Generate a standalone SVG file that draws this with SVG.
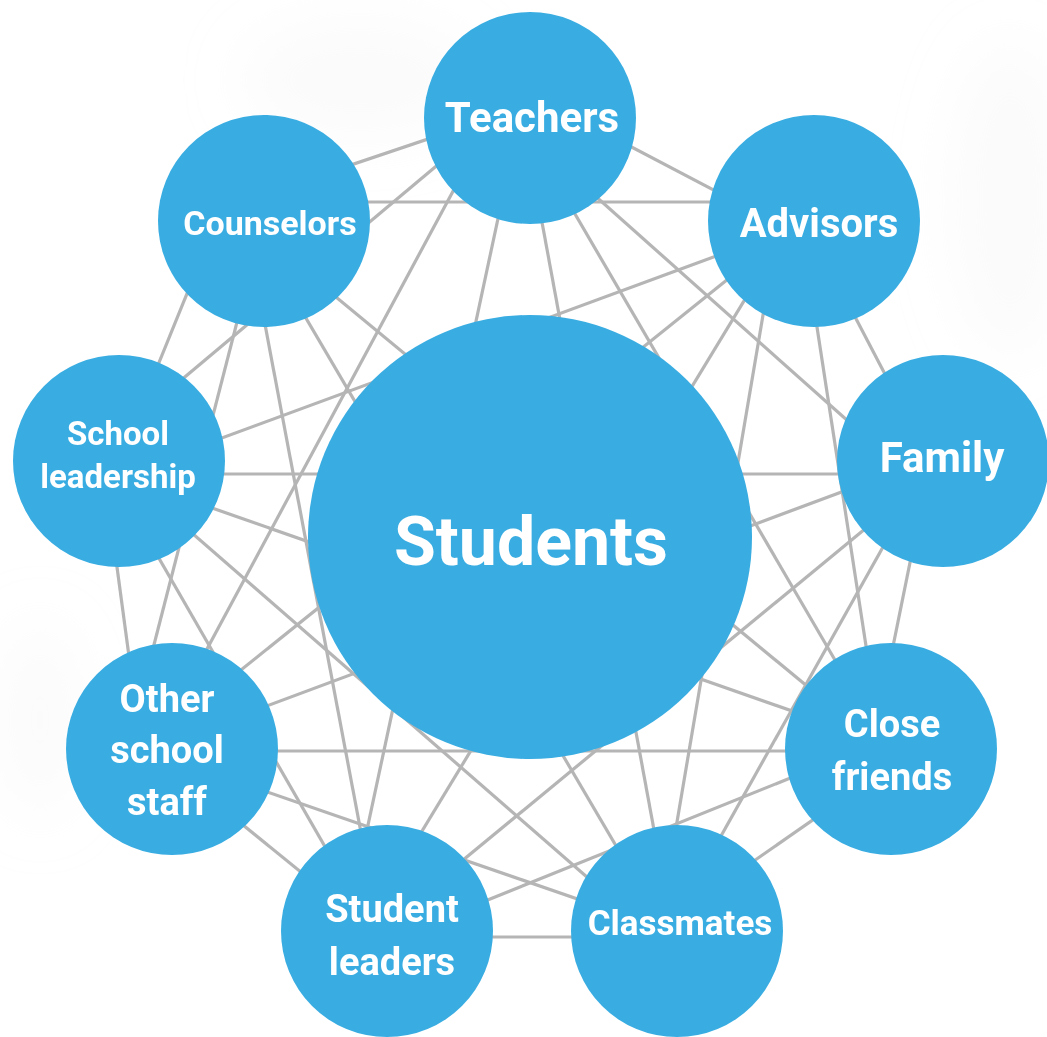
<svg xmlns="http://www.w3.org/2000/svg" width="1047" height="1037" viewBox="0 0 1047 1037">
  <defs>
    <style>
      .bg { fill: #ffffff; }
      .haze { fill: #ececec; opacity: 0.22; }
      .link { stroke: #b5b5b5; stroke-width: 3.2; fill: none; stroke-linecap: butt; }
      .node { fill: #39ade2; }
      .label { fill: #ffffff; font-family: Roboto, "Open Sans", "Liberation Sans", sans-serif; font-weight: 700; text-anchor: middle; }
    </style>
    <filter id="soft" x="-50%" y="-50%" width="200%" height="200%">
      <feGaussianBlur stdDeviation="30"/>
    </filter>
  </defs>

  <rect class="bg" x="0" y="0" width="1047" height="1037"/>

  <!-- faint background shading -->
  <g filter="url(#soft)">
    <ellipse class="haze" cx="360" cy="80" rx="120" ry="60"/>
    <ellipse class="haze" cx="1010" cy="200" rx="60" ry="160"/>
    <ellipse class="haze" cx="40" cy="720" rx="40" ry="100"/>
  </g>

  <!-- connectors between the outer circles -->
  <g id="connectors">
    <line class="link" x1="540" y1="99" x2="805" y2="238"/>
    <line class="link" x1="264" y1="202" x2="814" y2="202"/>
    <line class="link" x1="256" y1="197" x2="526" y2="106"/>
    <line class="link" x1="105" y1="444" x2="515" y2="100"/>
    <line class="link" x1="501" y1="102" x2="157" y2="742"/>
    <line class="link" x1="520" y1="129" x2="921" y2="486"/>
    <line class="link" x1="522" y1="123" x2="888" y2="751"/>
    <line class="link" x1="124" y1="474" x2="814" y2="220"/>
    <line class="link" x1="809" y1="214" x2="160" y2="735"/>
    <line class="link" x1="798" y1="212" x2="368" y2="920"/>
    <line class="link" x1="780" y1="215" x2="659" y2="928"/>
    <line class="link" x1="801" y1="223" x2="882" y2="750"/>
    <line class="link" x1="807" y1="225" x2="933" y2="466"/>
    <line class="link" x1="119" y1="474" x2="943" y2="474"/>
    <line class="link" x1="170" y1="742" x2="941" y2="455"/>
    <line class="link" x1="945" y1="463" x2="383" y2="926"/>
    <line class="link" x1="934" y1="456" x2="670" y2="927"/>
    <line class="link" x1="931" y1="459" x2="873" y2="745"/>
    <line class="link" x1="223" y1="205" x2="119" y2="461"/>
    <line class="link" x1="246" y1="224" x2="380" y2="933"/>
    <line class="link" x1="253" y1="228" x2="669" y2="936"/>
    <line class="link" x1="256" y1="231" x2="888" y2="753"/>
    <line class="link" x1="115" y1="474" x2="892" y2="746"/>
    <line class="link" x1="115" y1="466" x2="665" y2="945"/>
    <line class="link" x1="107" y1="468" x2="377" y2="937"/>
    <line class="link" x1="103" y1="463" x2="142" y2="753"/>
    <line class="link" x1="263" y1="221" x2="130" y2="738"/>
    <line class="link" x1="520" y1="116" x2="347" y2="923"/>
    <line class="link" x1="523" y1="119" x2="673" y2="933"/>
    <line class="link" x1="172" y1="751" x2="891" y2="751"/>
    <line class="link" x1="169" y1="758" x2="676" y2="933"/>
    <line class="link" x1="163" y1="760" x2="382" y2="938"/>
    <line class="link" x1="887" y1="739" x2="391" y2="939"/>
    <line class="link" x1="899" y1="760" x2="669" y2="920"/>
    <line class="link" x1="387" y1="937" x2="677" y2="937"/>
  </g>

  <g id="students">
    <circle class="node" cx="530" cy="537" r="222"/>
    <text class="label" x="531" y="565" font-size="68">Students</text>
  </g>

  <g id="teachers">
    <circle class="node" cx="530" cy="118" r="106"/>
    <text class="label" x="532" y="132" font-size="42">Teachers</text>
  </g>

  <g id="advisors">
    <circle class="node" cx="814" cy="221" r="106"/>
    <text class="label" x="819" y="237" font-size="40">Advisors</text>
  </g>

  <g id="counselors">
    <circle class="node" cx="264" cy="221" r="106"/>
    <text class="label" x="270" y="235" font-size="34">Counselors</text>
  </g>

  <g id="family">
    <circle class="node" cx="943" cy="461" r="106"/>
    <text class="label" x="942" y="472" font-size="42">Family</text>
  </g>

  <g id="school-leadership">
    <circle class="node" cx="119" cy="461" r="106"/>
    <text class="label" x="118" y="445" font-size="33">School</text>
    <text class="label" x="118" y="488" font-size="33">leadership</text>
  </g>

  <g id="close-friends">
    <circle class="node" cx="891" cy="749" r="106"/>
    <text class="label" x="892" y="737" font-size="38">Close</text>
    <text class="label" x="892" y="790" font-size="38">friends</text>
  </g>

  <g id="other-school-staff">
    <circle class="node" cx="172" cy="749" r="106"/>
    <text class="label" x="167" y="712" font-size="38">Other</text>
    <text class="label" x="167" y="763" font-size="38">school</text>
    <text class="label" x="167" y="815" font-size="38">staff</text>
  </g>

  <g id="student-leaders">
    <circle class="node" cx="387" cy="931" r="106"/>
    <text class="label" x="392" y="922" font-size="38">Student</text>
    <text class="label" x="392" y="975" font-size="38">leaders</text>
  </g>

  <g id="classmates">
    <circle class="node" cx="677" cy="931" r="106"/>
    <text class="label" x="680" y="935" font-size="35">Classmates</text>
  </g>
</svg>
